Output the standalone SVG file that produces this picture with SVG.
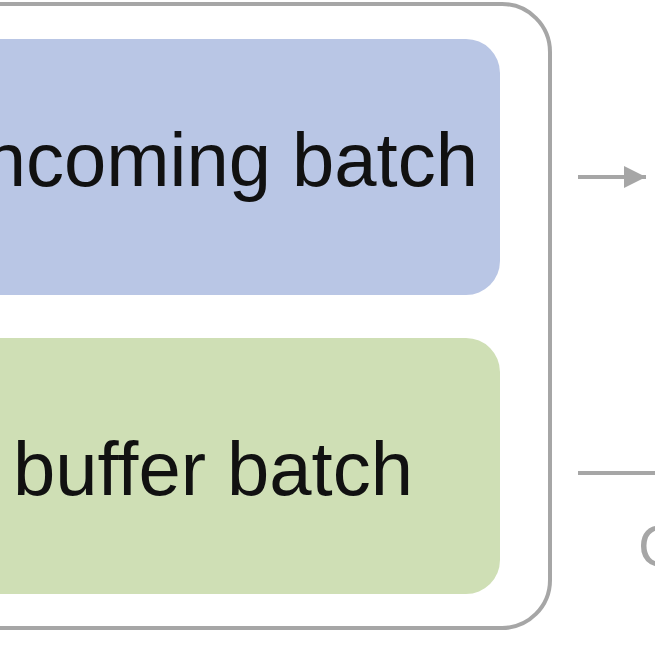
<svg xmlns="http://www.w3.org/2000/svg" width="655" height="655" viewBox="0 0 655 655">
<defs>
<style>
.lbl{font-family:"Liberation Sans","Noto Sans",Arial,sans-serif;font-size:76px;fill:#111;}
.conn{stroke:#a6a6a6;stroke-width:4;fill:none;}
</style>
<marker id="ah" viewBox="0 0 10 10" refX="10" refY="5" markerWidth="6" markerHeight="5.5" markerUnits="strokeWidth" orient="auto">
<path d="M0,0 L10,5 L0,10 Z" fill="#a6a6a6"/>
</marker>
</defs>
<rect width="655" height="655" fill="#fff"/>
<g id="container">
<rect x="-60" y="4" width="610" height="624" rx="48" ry="48" fill="#fff" stroke="#a6a6a6" stroke-width="4"/>
</g>
<g id="incoming">
<rect x="-60" y="39" width="560" height="256" rx="34" ry="34" fill="#b9c6e5"/>
<text class="lbl" x="478" y="186" text-anchor="end">Incoming batch</text>
</g>
<g id="buffer">
<rect x="-60" y="338" width="560" height="256" rx="34" ry="34" fill="#cfdfb5"/>
<text class="lbl" x="13" y="495">buffer batch</text>
</g>
<g id="connectors">
<line class="conn" x1="578" y1="177" x2="646" y2="177" marker-end="url(#ah)"/>
<line class="conn" x1="578" y1="473" x2="660" y2="473"/>
</g>
<g id="side-label">
<text x="638" y="566" font-family="Liberation Sans, Arial, sans-serif" font-size="58" fill="#a6a6a6">C</text>
</g>
</svg>
